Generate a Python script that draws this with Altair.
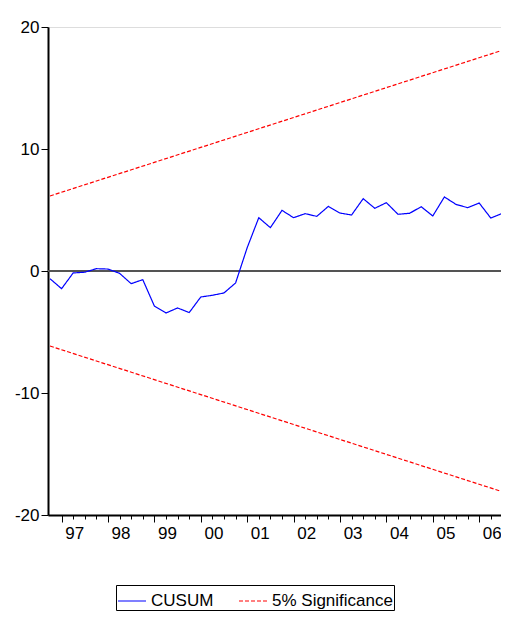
import altair as alt
import pandas as pd

cusum = [-0.63, -1.45, -0.16, -0.1, 0.19, 0.16, -0.19, -1.04, -0.71, -2.87,
         -3.44, -3.03, -3.41, -2.13, -1.99, -1.8, -0.98, 1.91, 4.37, 3.55,
         4.97, 4.37, 4.7, 4.48, 5.3, 4.75, 4.59, 5.93, 5.14, 5.6,
         4.65, 4.73, 5.27, 4.51, 6.07, 5.46, 5.19, 5.57, 4.34, 4.73, 3.95]
bound_start = 6.15
bound_end = 18.4
years = ["97", "98", "99", "00", "01", "02", "03", "04", "05", "06"]

rows = [{"t": i, "v": v, "s": "CUSUM", "g": "c"} for i, v in enumerate(cusum)]
n = len(cusum) - 1
for sign, g in [(1, "u"), (-1, "l")]:
    rows.append({"t": 0, "v": sign * bound_start, "s": "5% Significance", "g": g})
    rows.append({"t": n, "v": sign * bound_end, "s": "5% Significance", "g": g})
df = pd.DataFrame(rows)

font = "Liberation Sans"
yr_js = "[" + ",".join("'" + y + "'" for y in years) + "]"
label_expr = "(datum.value - 2) % 4 == 0 ? " + yr_js + "[(datum.value - 2) / 4] : ''"

x = alt.X("t:Q", scale=alt.Scale(domain=[-0.17, 38.88], nice=False, zero=False),
          axis=alt.Axis(values=list(range(1, 39)), grid=False, title=None,
                        domain=True, domainColor="black", domainWidth=2,
                        tickColor="black",
                        tickSize={"condition": {"test": "(datum.value - 1) % 4 == 0", "value": 7}, "value": 4},
                        labelExpr=label_expr,
                        labelFont=font, labelFontSize=17, labelColor="black",
                        labelOffset=1, labelPadding=6, labelOverlap=False))
y = alt.Y("v:Q", scale=alt.Scale(domain=[-20, 20], nice=False),
          axis=alt.Axis(values=[-20, -10, 0, 10, 20], grid=False, title=None,
                        domainColor="black", domainWidth=2, tickColor="black",
                        tickSize=7, labelFont=font, labelFontSize=17,
                        labelExpr="datum.value + ''",
                        labelColor="black", labelPadding=2))

lines = alt.Chart(df).mark_line(strokeWidth=1.2, clip=True).encode(
    x=x, y=y, detail="g:N",
    color=alt.Color("s:N", scale=alt.Scale(domain=["CUSUM", "5% Significance"],
                                           range=["#0000FF", "#FF0000"]),
                    legend=alt.Legend(title=None, orient="none", legendX=68, legendY=558,
                                      direction="horizontal", symbolType="stroke",
                                      symbolSize=784, symbolStrokeWidth=1.2,
                                      labelFont=font, labelFontSize=17, labelColor="black",
                                      strokeColor="black", padding=1, columnPadding=22,
                                      labelLimit=300)),
    strokeDash=alt.StrokeDash("s:N", scale=alt.Scale(domain=["CUSUM", "5% Significance"],
                                                      range=[[1, 0], [4, 2]]), legend=None),
)
zero = alt.Chart(df).mark_rule(color="#555555", strokeWidth=1).encode(y=alt.datum(0))

chart = (zero + lines).properties(
    width=453, height=488, autosize=alt.AutoSizeParams(type="none"),
    padding={"left": 40, "top": 19, "right": 0, "bottom": 100},
).configure_view(stroke="black", strokeWidth=1.5).configure(background="white")

chart.save("out.html", embed_options={"renderer": "svg", "actions": False})
